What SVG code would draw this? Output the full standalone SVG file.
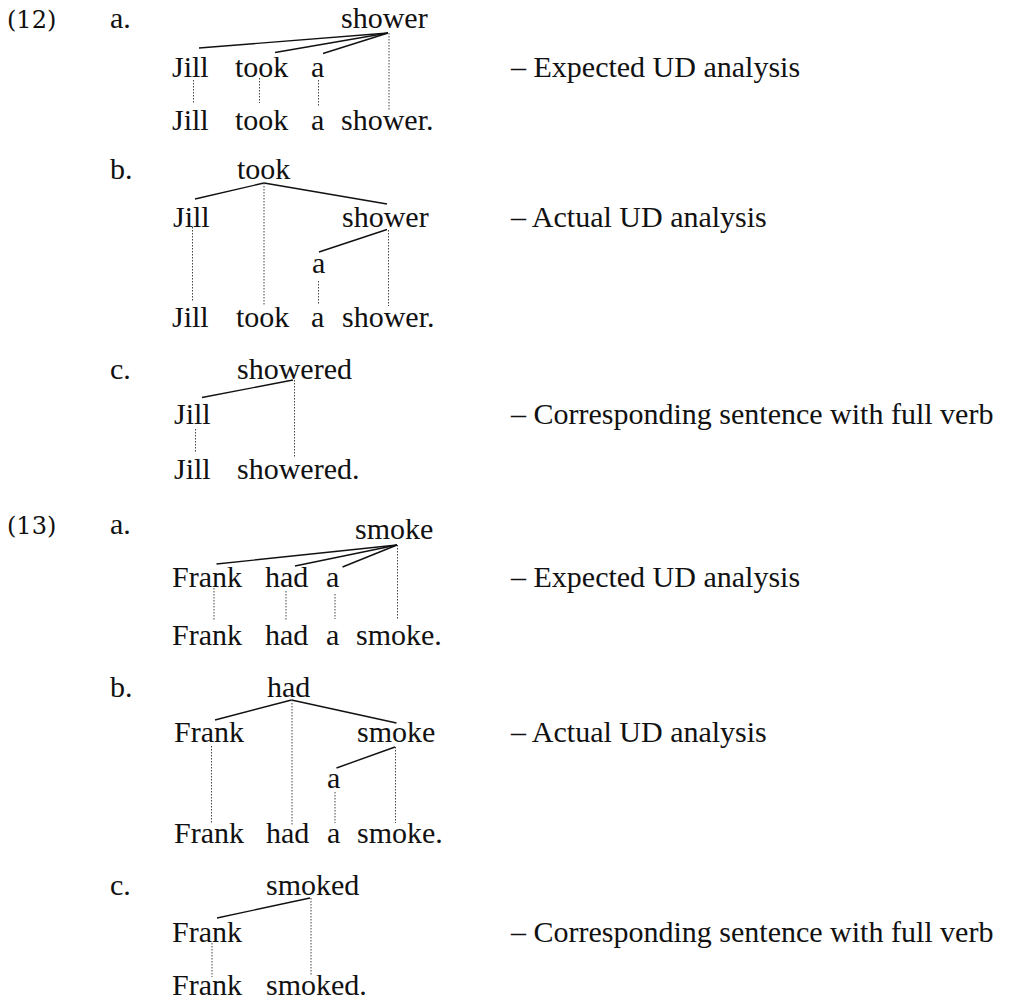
<svg xmlns="http://www.w3.org/2000/svg" width="1031" height="1003" viewBox="0 0 1031 1003">
<defs>
<style>
.dep{stroke:#111;stroke-width:1.4;fill:none}
.dot{stroke:#444;stroke-width:1;stroke-dasharray:1.5 1.5;fill:none}
</style>
</defs>
<rect width="1031" height="1003" fill="#fff"/>
<g id="connectors">
<line class="dep" x1="388" y1="33" x2="199" y2="48"/>
<line class="dep" x1="388" y1="33" x2="275" y2="52.5"/>
<line class="dep" x1="388" y1="33" x2="323" y2="53.5"/>
<line class="dot" x1="193.5" y1="80" x2="193.5" y2="103"/>
<line class="dot" x1="259.5" y1="78" x2="259.5" y2="103"/>
<line class="dot" x1="318.5" y1="80" x2="318.5" y2="106"/>
<line class="dot" x1="389" y1="33" x2="389" y2="110"/>
<line class="dep" x1="264" y1="183" x2="195" y2="199"/>
<line class="dep" x1="264" y1="183" x2="387" y2="204"/>
<line class="dot" x1="264" y1="183" x2="264" y2="306"/>
<line class="dep" x1="387" y1="229.5" x2="319" y2="252"/>
<line class="dot" x1="388.5" y1="230" x2="388.5" y2="306"/>
<line class="dot" x1="318.5" y1="281" x2="318.5" y2="305"/>
<line class="dot" x1="192.5" y1="227" x2="192.5" y2="302"/>
<line class="dep" x1="293" y1="380" x2="202" y2="397.5"/>
<line class="dot" x1="294.5" y1="380" x2="294.5" y2="458"/>
<line class="dot" x1="195.5" y1="429" x2="195.5" y2="453"/>
<line class="dep" x1="397" y1="545" x2="216.5" y2="564"/>
<line class="dep" x1="397" y1="545" x2="295" y2="566"/>
<line class="dep" x1="397" y1="545" x2="342.5" y2="567"/>
<line class="dot" x1="397.5" y1="545" x2="397.5" y2="620"/>
<line class="dot" x1="214" y1="588" x2="214" y2="620"/>
<line class="dot" x1="286" y1="591" x2="286" y2="620"/>
<line class="dot" x1="335" y1="594" x2="335" y2="619"/>
<line class="dep" x1="291.5" y1="700" x2="215" y2="720"/>
<line class="dep" x1="291.5" y1="700" x2="396.5" y2="723"/>
<line class="dot" x1="292" y1="700" x2="292" y2="825"/>
<line class="dep" x1="395" y1="747" x2="336.5" y2="768"/>
<line class="dot" x1="395.5" y1="747" x2="395.5" y2="823"/>
<line class="dot" x1="335" y1="792" x2="335" y2="823"/>
<line class="dot" x1="211.5" y1="746" x2="211.5" y2="823"/>
<line class="dep" x1="310" y1="898" x2="217" y2="918"/>
<line class="dot" x1="311" y1="898" x2="311" y2="975"/>
<line class="dot" x1="212" y1="943" x2="212" y2="977"/>
</g>
<g font-family="'Liberation Serif', serif" font-size="30" fill="#111">
<g id="ex12-label"><text font-family="'DejaVu Serif', serif" font-size="24" x="7" y="28">(12)</text></g>
<g id="ex12a-label"><text x="110" y="28">a.</text></g>
<g id="ex12a-shower"><text x="341" y="28">shower</text></g>
<g id="ex12a-jill"><text x="172" y="77">Jill</text></g>
<g id="ex12a-took"><text x="235" y="77">took</text></g>
<g id="ex12a-a"><text x="311" y="77">a</text></g>
<g id="ex12a-sentence"><text x="172" y="130">Jill</text><text x="235" y="130">took</text><text x="311" y="130">a</text><text x="341" y="130">shower.</text></g>
<g id="ex12a-note"><text x="511" y="77">– Expected UD analysis</text></g>
<g id="ex12b-label"><text x="110" y="179">b.</text></g>
<g id="ex12b-took"><text x="237" y="179">took</text></g>
<g id="ex12b-jill"><text x="173" y="227">Jill</text></g>
<g id="ex12b-shower"><text x="342" y="227">shower</text></g>
<g id="ex12b-a"><text x="312" y="273">a</text></g>
<g id="ex12b-sentence"><text x="172" y="327">Jill</text><text x="236" y="327">took</text><text x="311" y="327">a</text><text x="342" y="327">shower.</text></g>
<g id="ex12b-note"><text x="511" y="227">– Actual UD analysis</text></g>
<g id="ex12c-label"><text x="110" y="379">c.</text></g>
<g id="ex12c-showered"><text x="237" y="379">showered</text></g>
<g id="ex12c-jill"><text x="174" y="424">Jill</text></g>
<g id="ex12c-sentence"><text x="174" y="479">Jill</text><text x="237" y="479">showered.</text></g>
<g id="ex12c-note"><text x="511" y="424">– Corresponding sentence with full verb</text></g>
<g id="ex13-label"><text font-family="'DejaVu Serif', serif" font-size="24" x="7" y="534">(13)</text></g>
<g id="ex13a-label"><text x="110" y="534">a.</text></g>
<g id="ex13a-smoke"><text x="355" y="539">smoke</text></g>
<g id="ex13a-frank"><text x="172" y="587">Frank</text></g>
<g id="ex13a-had"><text x="265" y="587">had</text></g>
<g id="ex13a-a"><text x="326" y="587">a</text></g>
<g id="ex13a-sentence"><text x="172" y="645">Frank</text><text x="265" y="645">had</text><text x="326" y="645">a</text><text x="356" y="645">smoke.</text></g>
<g id="ex13a-note"><text x="511" y="587">– Expected UD analysis</text></g>
<g id="ex13b-label"><text x="110" y="697">b.</text></g>
<g id="ex13b-had"><text x="267" y="697">had</text></g>
<g id="ex13b-frank"><text x="174" y="742">Frank</text></g>
<g id="ex13b-smoke"><text x="357" y="742">smoke</text></g>
<g id="ex13b-a"><text x="327" y="788">a</text></g>
<g id="ex13b-sentence"><text x="174" y="843">Frank</text><text x="266" y="843">had</text><text x="327" y="843">a</text><text x="357" y="843">smoke.</text></g>
<g id="ex13b-note"><text x="511" y="742">– Actual UD analysis</text></g>
<g id="ex13c-label"><text x="110" y="895">c.</text></g>
<g id="ex13c-smoked"><text x="266" y="895">smoked</text></g>
<g id="ex13c-frank"><text x="172" y="942">Frank</text></g>
<g id="ex13c-sentence"><text x="172" y="995">Frank</text><text x="266" y="995">smoked.</text></g>
<g id="ex13c-note"><text x="511" y="942">– Corresponding sentence with full verb</text></g>
</g>
</svg>
